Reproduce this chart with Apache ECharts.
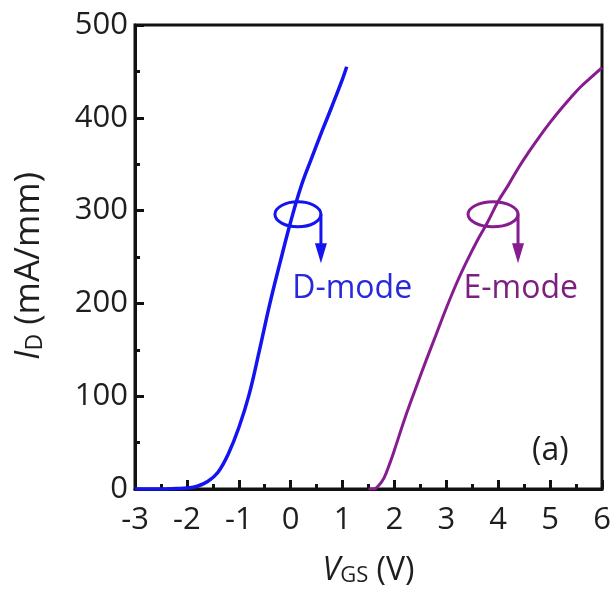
<!DOCTYPE html>
<html>
<head>
<meta charset="utf-8">
<script src="https://cdn.jsdelivr.net/npm/echarts@6/dist/echarts.min.js"></script>
<style>
  html, body { margin: 0; padding: 0; background: #fff; }
  #chart { width: 616px; height: 597px; }
</style>
</head>
<body>
<div id="chart"></div>
<script>
// Transfer characteristics, I_D vs V_GS
const vgsD = [-3, -2.5, -2.2, -2.0, -1.8, -1.6, -1.4, -1.2, -1.0, -0.8, -0.6, -0.4, -0.2, 0, 0.2, 0.4, 0.6, 0.8, 1.0, 1.08];
const idD  = [0, 0, 0.5, 1, 3, 8, 18, 38, 66, 102, 150, 200, 245, 288, 326, 356, 385, 413, 442, 455];

const vgsE = [1.5, 1.6, 1.7, 1.8, 1.9, 2.0, 2.2, 2.4, 2.6, 2.8, 3.0, 3.2, 3.4, 3.6, 3.8, 4.0, 4.2, 4.4, 4.6, 4.8, 5.0, 5.2, 5.4, 5.6, 5.8, 6.0];
const idE  = [0, 0, 4, 12, 26, 42, 76, 107, 137, 166, 195, 222, 246, 268, 288, 310, 328, 347, 364, 380, 395, 409, 422, 434, 444, 454];

const xTicks = [-3, -2, -1, 0, 1, 2, 3, 4, 5, 6];
const yTicks = [0, 100, 200, 300, 400, 500];

const modeLabels = ['D-mode', 'E-mode'];

const BLUE = '#1414f0';
const PURPLE = '#861c8f';
const FONT = '"Open Sans", "Noto Sans", sans-serif';

// sweep-direction markers: loop centre and label anchor, in axis units
const notes = [
  { loop: [0.14, 296], text: [0.03, 216], rx: 23, color: BLUE, textColor: '#2828dc', label: modeLabels[0] },
  { loop: [3.90, 296], text: [3.33, 216], rx: 25, color: PURPLE, textColor: '#7c2080', label: modeLabels[1] }
];

const pairs = (xs, ys) => xs.map((x, i) => [x, ys[i]]);

const chart = echarts.init(document.getElementById('chart'), null, { renderer: 'canvas' });

const tickStyle = { color: '#111', width: 3 };

chart.setOption({
  animation: false,
  backgroundColor: '#fff',
  grid: {
    left: 135, right: 14, top: 25, bottom: 108,
    show: true, borderColor: '#111', borderWidth: 3, backgroundColor: 'transparent'
  },
  xAxis: {
    type: 'value',
    min: xTicks[0], max: xTicks[xTicks.length - 1], interval: 1,
    axisLine: { show: true, onZero: false, lineStyle: tickStyle },
    axisTick: { show: true, inside: true, length: 9, lineStyle: tickStyle },
    minorTick: { show: true, splitNumber: 2, length: 5, lineStyle: tickStyle },
    splitLine: { show: false },
    axisLabel: { color: '#1e1e1e', fontFamily: FONT, fontSize: 31, margin: 16 },
    name: '{i|V}{s|GS}{n| (V)}',
    nameLocation: 'middle',
    nameGap: 58,
    nameTextStyle: {
      rich: {
        i: { fontFamily: FONT, fontSize: 32, fontStyle: 'italic', color: '#1e1e1e', verticalAlign: 'bottom', lineHeight: 40 },
        s: { fontFamily: FONT, fontSize: 22, color: '#1e1e1e', verticalAlign: 'bottom', lineHeight: 36 },
        n: { fontFamily: FONT, fontSize: 32, color: '#1e1e1e', verticalAlign: 'bottom', lineHeight: 40 }
      }
    }
  },
  yAxis: {
    type: 'value',
    min: yTicks[0], max: yTicks[yTicks.length - 1], interval: 100,
    axisLine: { show: true, onZero: false, lineStyle: tickStyle },
    axisTick: { show: true, inside: true, length: 9, lineStyle: tickStyle },
    minorTick: { show: true, splitNumber: 2, length: 5, lineStyle: tickStyle },
    splitLine: { show: false },
    axisLabel: { color: '#1e1e1e', fontFamily: FONT, fontSize: 31, margin: 7 },
    name: '{i|I}{s|D}{n| (mA/mm)}',
    nameLocation: 'middle',
    nameRotate: 90,
    nameGap: 88,
    nameTextStyle: {
      padding: [0, 18, 0, 0],
      rich: {
        i: { fontFamily: FONT, fontSize: 35, fontStyle: 'italic', color: '#1e1e1e', verticalAlign: 'bottom', lineHeight: 42 },
        s: { fontFamily: FONT, fontSize: 23, color: '#1e1e1e', verticalAlign: 'bottom', lineHeight: 37 },
        n: { fontFamily: FONT, fontSize: 35, color: '#1e1e1e', verticalAlign: 'bottom', lineHeight: 42 }
      }
    }
  },
  graphic: [{
    type: 'text',
    left: 532, top: 435,
    style: { text: '(a)', font: '32px ' + FONT, fill: '#1e1e1e' }
  }],
  series: [
    {
      name: 'E-mode', type: 'line', data: pairs(vgsE, idE),
      showSymbol: false, smooth: 0.4,
      lineStyle: { color: PURPLE, width: 3 }, z: 2
    },
    {
      name: 'D-mode', type: 'line', data: pairs(vgsD, idD),
      showSymbol: false, smooth: 0.4,
      lineStyle: { color: BLUE, width: 3.5 }, z: 3
    },
    {
      type: 'custom', z: 4, silent: true,
      data: notes.map(n => [n.loop[0], n.loop[1]]),
      renderItem: function (params, api) {
        const n = notes[params.dataIndex];
        const c = api.coord(n.loop);
        const t = api.coord(n.text);
        const ax = c[0] + n.rx;
        return {
          type: 'group',
          children: [
            { type: 'ellipse', shape: { cx: c[0], cy: c[1], rx: n.rx, ry: 12.5 },
              style: { fill: 'none', stroke: n.color, lineWidth: 3 } },
            { type: 'line', shape: { x1: ax, y1: c[1], x2: ax, y2: c[1] + 34 },
              style: { stroke: n.color, lineWidth: 3 } },
            { type: 'polygon', shape: { points: [[ax - 6, c[1] + 29], [ax + 6, c[1] + 29], [ax, c[1] + 49]] },
              style: { fill: n.color } },
            { type: 'text', x: t[0], y: t[1],
              style: { text: n.label, font: '32px ' + FONT, fill: n.textColor, verticalAlign: 'middle', align: 'left' } }
          ]
        };
      }
    }
  ]
});
</script>
</body>
</html>
